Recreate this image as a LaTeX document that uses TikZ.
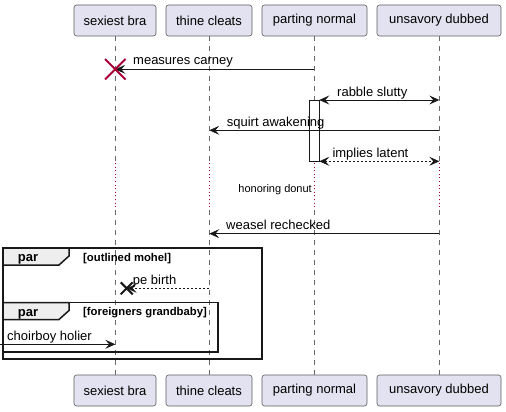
\documentclass[tikz,border=0pt]{standalone}
\usepackage{fontspec}
\setmainfont{Liberation Sans}
\usetikzlibrary{arrows.meta}

\definecolor{partfill}{HTML}{E2E2F0}
\definecolor{inkgray}{HTML}{181818}
\definecolor{killred}{HTML}{A80036}
\definecolor{tabfill}{HTML}{EEEEEE}

\tikzset{
  part/.style={draw=inkgray!70, line width=0.6pt, fill=partfill, rounded corners=2.5pt,
    minimum height=31pt, inner sep=0pt, font=\fontsize{13}{15}\selectfont},
  lifeline/.style={draw=inkgray!65, line width=0.7pt, dash pattern=on 5pt off 5pt},
  delayline/.style={draw=killred, line width=0.8pt, dash pattern=on 1pt off 2.6pt},
  msg/.style={draw=inkgray, line width=0.8pt, -{Stealth[length=10pt,width=9pt,inset=4pt]}},
  bimsg/.style={msg, {Stealth[length=10pt,width=9pt,inset=4pt]}-{Stealth[length=10pt,width=9pt,inset=4pt]}},
  msglabel/.style={anchor=base west, inner sep=0pt, font=\fontsize{13}{15}\selectfont},
  framebox/.style={draw=inkgray, line width=1.5pt},
  tabbox/.style={draw=inkgray, line width=1.5pt, fill=tabfill},
  tablabel/.style={anchor=base, inner sep=0pt, font=\bfseries\fontsize{13}{15}\selectfont},
  guardlabel/.style={anchor=base west, inner sep=0pt, font=\bfseries\fontsize{11.3}{13}\selectfont}
}

\begin{document}
\begin{tikzpicture}[x=1pt,y=-1pt]
\useasboundingbox (0,0) rectangle (506,412);

% participants, top and bottom
\node[part, minimum width=82pt] (braT) at (115,20.5) {sexiest bra};
\node[part, minimum width=86pt] (cleatsT) at (209,20.5) {thine cleats};
\node[part, minimum width=105pt] (normalT) at (314.5,20.5) {parting normal};
\node[part, minimum width=124pt] (dubbedT) at (439,20.5) {unsavory dubbed};
\node[part, minimum width=82pt] (braB) at (115,390.5) {sexiest bra};
\node[part, minimum width=86pt] (cleatsB) at (209,390.5) {thine cleats};
\node[part, minimum width=105pt] (normalB) at (314.5,390.5) {parting normal};
\node[part, minimum width=124pt] (dubbedB) at (439,390.5) {unsavory dubbed};

% lifelines, dotted during the delay
\foreach \who/\x in {bra/115.3, cleats/209.3, normal/314.3, dubbed/439.3} {
  \coordinate (\who D1) at (\x,163);
  \coordinate (\who D2) at (\x,210);
  \draw[lifeline] (\who T.south -| \who D1) -- (\who D1);
  \draw[delayline] (\who D1) -- (\who D2);
  \draw[lifeline] (\who D2) -- (\who B.north -| \who D2);
}

% activation on parting normal
\draw[inkgray, line width=0.8pt, fill=white] (309.3,100) rectangle (319.3,161.3);

% messages
\coordinate (m1a) at (314.3,69.3);
\coordinate (m1b) at (115.3,69.3);
\draw[msg] (m1a) -- (m1b);
\node[msglabel] (m1) at (133,65) {measures carney};
\draw[killred, line width=2pt] (105,59) -- (125.5,79.5) (125.5,59) -- (105,79.5);

\coordinate (m2a) at (319.3,100);
\coordinate (m2b) at (439.3,100);
\draw[bimsg] (m2a) -- (m2b);
\node[msglabel] (m2) at (337,96) {rabble slutty};

\coordinate (m3a) at (439.3,130.3);
\coordinate (m3b) at (209.3,130.3);
\draw[msg] (m3a) -- (m3b);
\node[msglabel] (m3) at (226.7,126.5) {squirt awakening};

\coordinate (m4a) at (319.3,161.3);
\coordinate (m4b) at (439.3,161.3);
\draw[bimsg, dash pattern=on 2pt off 2pt] (m4a) -- (m4b);
\node[msglabel] (m4) at (332.3,157.5) {implies latent};

\node[anchor=east, inner sep=0pt, font=\fontsize{11}{13}\selectfont] (delay) at (312,190) {honoring donut};

\coordinate (m5a) at (439.3,233.7);
\coordinate (m5b) at (209.3,233.7);
\draw[msg] (m5a) -- (m5b);
\node[msglabel] (m5) at (226,229.5) {weasel rechecked};

% outer par
\draw[framebox] (3,248) rectangle (262,359);
\draw[tabbox] (3,248) -- (69,248) -- (69,256) -- (59,265) -- (3,265) -- cycle;
\node[tablabel] (par1) at (28,261.5) {par};
\node[guardlabel] (guard1) at (83,261.2) {[outlined mohel]};

\coordinate (m6a) at (209.3,288.3);
\coordinate (m6b) at (126.7,288.3);
\draw[msg, dash pattern=on 2pt off 2pt] (m6a) -- (m6b);
\draw[inkgray, line width=2pt] (120.7,282.3) -- (132.7,294.3) (132.7,282.3) -- (120.7,294.3);
\node[msglabel] (m6) at (132.7,284.5) {pe birth};

% inner par
\draw[framebox] (3,302.5) rectangle (218,352);
\draw[tabbox] (3,302.5) -- (69,302.5) -- (69,310.5) -- (59,319.5) -- (3,319.5) -- cycle;
\node[tablabel] (par2) at (28,316) {par};
\node[guardlabel] (guard2) at (83,315.7) {[foreigners grandbaby]};

\coordinate (m7a) at (0,344.3);
\coordinate (m7b) at (115.3,344.3);
\draw[msg] (m7a) -- (m7b);
\node[msglabel] (m7) at (7,340.5) {choirboy holier};
\end{tikzpicture}
\end{document}
